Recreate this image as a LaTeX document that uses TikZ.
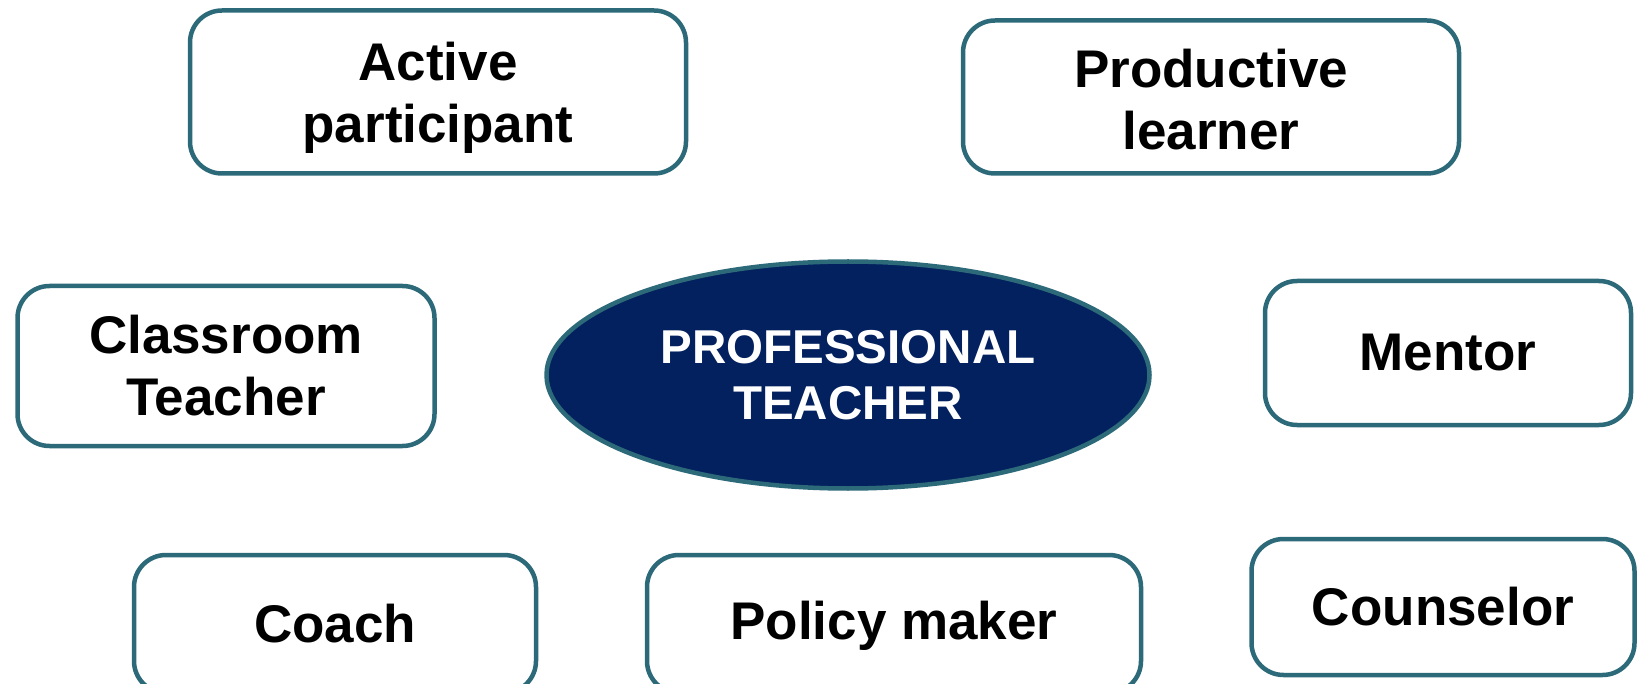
\documentclass[tikz,border=0pt]{standalone}
\usepackage{fontspec}
\setmainfont{Liberation Sans}
\usetikzlibrary{shapes.geometric}
\definecolor{edgeteal}{RGB}{44,106,122}
\definecolor{navyfill}{RGB}{3,33,94}
\begin{document}
\begin{tikzpicture}[x=1pt,y=-1pt,
  rolebox/.style={draw=edgeteal, line width=4.5pt, rounded corners=32pt,
    fill=white, inner sep=0pt, align=center, text=black,
    font=\fontsize{53}{62}\selectfont\bfseries},
  roletext/.style={inner sep=0pt, align=center, text=black,
    font=\fontsize{53}{62}\selectfont\bfseries},
  corebox/.style={ellipse, draw=edgeteal, line width=4.5pt, fill=navyfill,
    inner sep=0pt, align=center, text=white,
    font=\fontsize{47.5}{55.5}\selectfont\bfseries}]
  \clip (0,0) rectangle (1641,684);
  \fill[white] (0,0) rectangle (1641,684);

  % outer ring of roles
  \node[rolebox, minimum width=496pt, minimum height=163pt] (ap) at (438,92) {};
  \node[roletext] (apt) at ([yshift=-6pt]ap.center) {Active\\participant};
  \node[rolebox, minimum width=496pt, minimum height=153pt] (pl) at (1211,97) {};
  \node[roletext] (plt) at ([yshift=-3pt]pl.center) {Productive\\learner};
  \node[rolebox, minimum width=417pt, minimum height=160pt] (ct) at (226,366) {Classroom\\Teacher};
  \node[rolebox, minimum width=366pt, minimum height=144pt] (me) at (1448,353) {Mentor};
  \node[rolebox, minimum width=402pt, minimum height=138pt] (co) at (335,624) {Coach};
  \node[rolebox, minimum width=494pt, minimum height=138pt] (pm) at (894,624) {};
  \node[roletext] (pmt) at ([yshift=-2pt]pm.center) {Policy maker};
  \node[rolebox, minimum width=383pt, minimum height=136pt] (cs) at (1443,607) {Counselor};

  % central role
  \node[corebox, minimum width=603pt, minimum height=227pt] (pt) at (848,375) {PROFESSIONAL\\TEACHER};
\end{tikzpicture}
\end{document}
